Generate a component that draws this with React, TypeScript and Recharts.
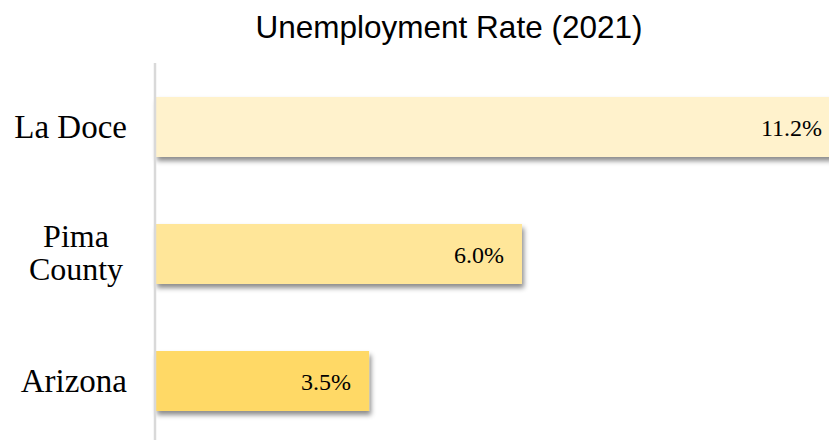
// Horizontaler Balken: Arbeitslosenquote 2021

import React from 'react';
import { BarChart, Bar, XAxis, YAxis, Cell, LabelList } from 'recharts';

const regions = ['La Doce', 'Pima\nCounty', 'Arizona'];
const rates = [11.2, 6.0, 3.5];
const barColors = ['#FFF2CC', '#FFE699', '#FFD966'];

const data = regions.map((region, i) => ({ region, rate: rates[i] }));

const serif = '"Liberation Serif", "DejaVu Serif", serif';

// mehrzeilige Labels zentriert, einzeilige rechtsbündig
const RegionTick = (props: any) => {
  const { x, y, payload } = props;
  const lines: string[] = String(payload.value).split('\n');
  if (lines.length === 1) {
    return (
      <text x={x - 20} y={y + 11} textAnchor="end" fontFamily={serif} fontSize={33} fill="#000">
        {lines[0]}
      </text>
    );
  }
  const lineHeight = 33;
  const startY = y + 10 - ((lines.length - 1) * lineHeight) / 2;
  return (
    <text x={x - 71} y={startY} textAnchor="middle" fontFamily={serif} fontSize={32} fill="#000">
      {lines.map((line, i) => (
        <tspan key={i} x={x - 71} y={startY + i * lineHeight}>
          {line}
        </tspan>
      ))}
    </text>
  );
};

const App = () => {
  return (
    <div
      style={{
        position: 'fixed',
        top: 0,
        left: 0,
        width: 829,
        height: 440,
        overflow: 'hidden',
        background: '#fff',
      }}
    >
      <div
        style={{
          position: 'absolute',
          top: 8,
          left: 449,
          transform: 'translateX(-50%)',
          fontFamily: '"Liberation Sans", Arial, sans-serif',
          fontSize: 31.5,
          color: '#000',
          whiteSpace: 'nowrap',
          lineHeight: '38px',
        }}
      >
        Unemployment Rate (2021)
      </div>
      <div style={{ position: 'absolute', top: 0, left: 0 }}>
        <BarChart
          width={900}
          height={450}
          data={data}
          layout="vertical"
          margin={{ top: 63, right: 11, bottom: 6, left: 0 }}
        >
          <defs>
            <filter id="barShadow" x="-5%" y="-20%" width="115%" height="160%">
              <feDropShadow dx="2" dy="4" stdDeviation="2.5" floodColor="#000" floodOpacity="0.45" />
            </filter>
          </defs>
          <XAxis type="number" domain={[0, 12]} hide />
          <YAxis
            type="category"
            dataKey="region"
            width={155}
            axisLine={{ stroke: '#D9D9D9', strokeWidth: 2.5 }}
            tickLine={false}
            tick={<RegionTick />}
            interval={0}
          />
          <Bar
            dataKey="rate"
            barSize={60}
            isAnimationActive={false}
            filter="url(#barShadow)"
          >
            {data.map((d, i) => (
              <Cell key={d.region} fill={barColors[i]} />
            ))}
            <LabelList
              dataKey="rate"
              position="insideRight"
              offset={18}
              formatter={(v: any) => `${Number(v).toFixed(1)}%`}
              style={{ fontFamily: serif, fontSize: 24, fill: '#000' }}
            />
          </Bar>
        </BarChart>
      </div>
    </div>
  );
};

export default App;
